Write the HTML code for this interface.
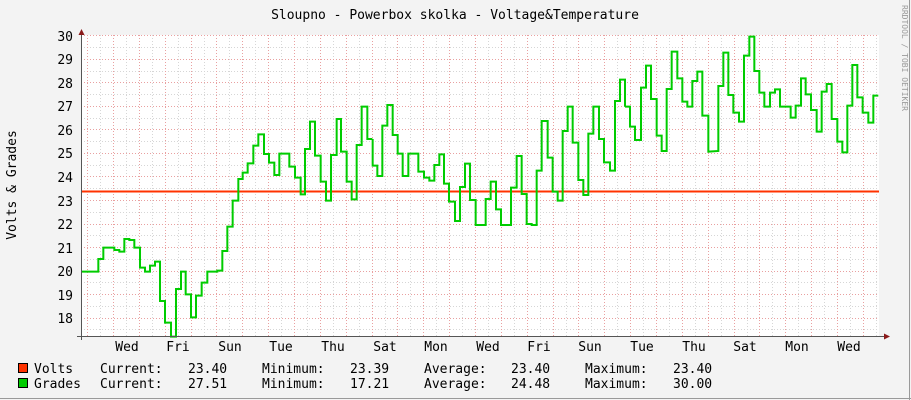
<!DOCTYPE html>
<html><head><meta charset="utf-8"><style>
html,body{margin:0;padding:0;background:#f3f3f3;}
svg{display:block;}
text{font-family:"DejaVu Sans Mono","Liberation Mono",monospace;fill:#000;}
</style></head><body>
<svg width="911" height="400" viewBox="0 0 911 400" xmlns="http://www.w3.org/2000/svg">
<rect x="0" y="0" width="911" height="400" fill="#f3f3f3"/>
<rect x="81" y="35" width="798" height="301" fill="#ffffff"/>
<g id="grid" stroke-width="1" shape-rendering="crispEdges">
<g stroke="#d6d6d6" stroke-dasharray="1,2">
<line x1="81" y1="47.5" x2="879" y2="47.5"/><line x1="81" y1="71.5" x2="879" y2="71.5"/><line x1="81" y1="94.5" x2="879" y2="94.5"/><line x1="81" y1="118.5" x2="879" y2="118.5"/><line x1="81" y1="141.5" x2="879" y2="141.5"/><line x1="81" y1="165.5" x2="879" y2="165.5"/><line x1="81" y1="188.5" x2="879" y2="188.5"/><line x1="81" y1="212.5" x2="879" y2="212.5"/><line x1="81" y1="235.5" x2="879" y2="235.5"/><line x1="81" y1="259.5" x2="879" y2="259.5"/><line x1="81" y1="282.5" x2="879" y2="282.5"/><line x1="81" y1="306.5" x2="879" y2="306.5"/><line x1="81" y1="329.5" x2="879" y2="329.5"/>
<line x1="100.5" y1="35" x2="100.5" y2="336"/><line x1="126.5" y1="35" x2="126.5" y2="336"/><line x1="152.5" y1="35" x2="152.5" y2="336"/><line x1="178.5" y1="35" x2="178.5" y2="336"/><line x1="204.5" y1="35" x2="204.5" y2="336"/><line x1="229.5" y1="35" x2="229.5" y2="336"/><line x1="255.5" y1="35" x2="255.5" y2="336"/><line x1="281.5" y1="35" x2="281.5" y2="336"/><line x1="307.5" y1="35" x2="307.5" y2="336"/><line x1="333.5" y1="35" x2="333.5" y2="336"/><line x1="359.5" y1="35" x2="359.5" y2="336"/><line x1="385.5" y1="35" x2="385.5" y2="336"/><line x1="410.5" y1="35" x2="410.5" y2="336"/><line x1="436.5" y1="35" x2="436.5" y2="336"/><line x1="462.5" y1="35" x2="462.5" y2="336"/><line x1="488.5" y1="35" x2="488.5" y2="336"/><line x1="514.5" y1="35" x2="514.5" y2="336"/><line x1="540.5" y1="35" x2="540.5" y2="336"/><line x1="566.5" y1="35" x2="566.5" y2="336"/><line x1="591.5" y1="35" x2="591.5" y2="336"/><line x1="617.5" y1="35" x2="617.5" y2="336"/><line x1="643.5" y1="35" x2="643.5" y2="336"/><line x1="669.5" y1="35" x2="669.5" y2="336"/><line x1="695.5" y1="35" x2="695.5" y2="336"/><line x1="721.5" y1="35" x2="721.5" y2="336"/><line x1="747.5" y1="35" x2="747.5" y2="336"/><line x1="772.5" y1="35" x2="772.5" y2="336"/><line x1="798.5" y1="35" x2="798.5" y2="336"/><line x1="824.5" y1="35" x2="824.5" y2="336"/><line x1="850.5" y1="35" x2="850.5" y2="336"/><line x1="876.5" y1="35" x2="876.5" y2="336"/>
</g>
<g stroke="#e9a0a0" stroke-dasharray="1,2">
<line x1="81" y1="35.5" x2="879" y2="35.5"/><line x1="81" y1="59.5" x2="879" y2="59.5"/><line x1="81" y1="82.5" x2="879" y2="82.5"/><line x1="81" y1="106.5" x2="879" y2="106.5"/><line x1="81" y1="129.5" x2="879" y2="129.5"/><line x1="81" y1="153.5" x2="879" y2="153.5"/><line x1="81" y1="176.5" x2="879" y2="176.5"/><line x1="81" y1="200.5" x2="879" y2="200.5"/><line x1="81" y1="224.5" x2="879" y2="224.5"/><line x1="81" y1="247.5" x2="879" y2="247.5"/><line x1="81" y1="271.5" x2="879" y2="271.5"/><line x1="81" y1="294.5" x2="879" y2="294.5"/><line x1="81" y1="318.5" x2="879" y2="318.5"/>
<line x1="87.5" y1="35" x2="87.5" y2="336"/><line x1="113.5" y1="35" x2="113.5" y2="336"/><line x1="139.5" y1="35" x2="139.5" y2="336"/><line x1="165.5" y1="35" x2="165.5" y2="336"/><line x1="191.5" y1="35" x2="191.5" y2="336"/><line x1="216.5" y1="35" x2="216.5" y2="336"/><line x1="242.5" y1="35" x2="242.5" y2="336"/><line x1="268.5" y1="35" x2="268.5" y2="336"/><line x1="294.5" y1="35" x2="294.5" y2="336"/><line x1="320.5" y1="35" x2="320.5" y2="336"/><line x1="346.5" y1="35" x2="346.5" y2="336"/><line x1="372.5" y1="35" x2="372.5" y2="336"/><line x1="397.5" y1="35" x2="397.5" y2="336"/><line x1="423.5" y1="35" x2="423.5" y2="336"/><line x1="449.5" y1="35" x2="449.5" y2="336"/><line x1="475.5" y1="35" x2="475.5" y2="336"/><line x1="501.5" y1="35" x2="501.5" y2="336"/><line x1="527.5" y1="35" x2="527.5" y2="336"/><line x1="553.5" y1="35" x2="553.5" y2="336"/><line x1="578.5" y1="35" x2="578.5" y2="336"/><line x1="604.5" y1="35" x2="604.5" y2="336"/><line x1="630.5" y1="35" x2="630.5" y2="336"/><line x1="656.5" y1="35" x2="656.5" y2="336"/><line x1="682.5" y1="35" x2="682.5" y2="336"/><line x1="708.5" y1="35" x2="708.5" y2="336"/><line x1="734.5" y1="35" x2="734.5" y2="336"/><line x1="759.5" y1="35" x2="759.5" y2="336"/><line x1="785.5" y1="35" x2="785.5" y2="336"/><line x1="811.5" y1="35" x2="811.5" y2="336"/><line x1="837.5" y1="35" x2="837.5" y2="336"/><line x1="863.5" y1="35" x2="863.5" y2="336"/>
</g>
</g>
<!-- volts -->
<line x1="81" y1="191.5" x2="879" y2="191.5" stroke="#ff3300" stroke-width="2"/>
<!-- grades -->
<g fill="none" stroke="#00cc00" stroke-width="6" stroke-linejoin="miter">
<polyline transform="translate(75,25) scale(0.33333)" points="18,740 70,740 70,702 85,702 85,668 118,668 118,675 133,675 133,680 148,680 148,642 163,642 163,645 178,645 178,668 195,668 195,728 210,728 210,740 225,740 225,722 240,722 240,710 255,710 255,828 270,828 270,893 288,893 288,935 303,935 303,792 318,792 318,740 332,740 332,808 348,808 348,877 363,877 363,812 380,812 380,773 397,773 397,740 427,740 427,737 442,737 442,678 457,678 457,605 473,605 473,527 490,527 490,462 503,462 503,443 518,443 518,415 535,415 535,362 550,362 550,328 567,328 567,387 582,387 582,413 598,413 598,450 613,450 613,386 643,386 643,425 660,425 660,458 677,458 677,508 690,508 690,372 705,372 705,290 720,290 720,392 737,392 737,470 753,470 753,527 768,527 768,390 785,390 785,282 798,282 798,380 815,380 815,470 830,470 830,523 845,523 845,360 860,360 860,245 877,245 877,342 892,342"/>
<polyline transform="translate(370,25) scale(0.33333)" points="8,342 8,422 22,422 22,453 37,453 37,302 52,302 52,240 68,240 68,330 83,330 83,386 98,386 98,453 115,453 115,386 145,386 145,440 162,440 162,458 178,458 178,467 193,467 193,420 208,420 208,388 222,388 222,476 237,476 237,530 255,530 255,588 270,588 270,486 285,486 285,416 300,416 300,525 317,525 317,600 347,600 347,522 362,522 362,470 378,470 378,553 393,553 393,600 423,600 423,488 440,488 440,393 455,393 455,507 470,507 470,597 485,597 485,600 500,600 500,437 515,437 515,288 533,288 533,398 548,398 548,500 563,500 563,527 578,527 578,318 593,318 593,245 608,245 608,353 625,353 625,465 640,465 640,510 655,510 655,326 670,326 670,245 687,245 687,342 702,342 702,412 720,412 720,437 735,437 735,228 750,228 750,164 765,164 765,245"/>
<polyline transform="translate(620,25) scale(0.33333)" points="15,245 30,245 30,305 45,305 45,345 63,345 63,188 78,188 78,122 93,122 93,222 110,222 110,332 125,332 125,378 140,378 140,192 155,192 155,80 172,80 172,160 187,160 187,230 202,230 202,245 217,245 217,168 232,168 232,140 247,140 247,272 265,272 265,380 295,378 295,183 310,183 310,83 325,83 325,210 340,210 340,263 357,263 357,290 372,290 372,92 388,92 388,35 403,35 403,138 418,138 418,203 433,203 433,245 450,245 450,203 465,203 465,193 480,193 480,245 512,245 512,278 527,278 527,242 543,242 543,160 557,160 557,208 573,208 573,255 590,255 590,320 605,320 605,200 620,200 620,177 635,177 635,282 652,282 652,350 667,350 667,382 682,382 682,242 697,242 697,120 712,120 712,217 728,217 728,263 745,263 745,293 760,293 760,212 775,212"/>
</g>
<!-- axes -->
<g stroke="#555" stroke-width="1" shape-rendering="crispEdges">
<line x1="81.5" y1="30" x2="81.5" y2="340"/>
<line x1="77" y1="336.5" x2="884" y2="336.5"/>
</g>
<polygon points="78.5,35 84.5,35 81.5,29" fill="#8b1a1a"/>
<polygon points="884,333.5 884,339.5 890,336.5" fill="#8b1a1a"/>
<!-- y labels -->
<g font-size="13" text-anchor="end">
<text x="73" y="41">30</text><text x="73" y="64">29</text><text x="73" y="88">28</text><text x="73" y="111">27</text><text x="73" y="135">26</text><text x="73" y="158">25</text><text x="73" y="182">24</text><text x="73" y="206">23</text><text x="73" y="229">22</text><text x="73" y="253">21</text><text x="73" y="276">20</text><text x="73" y="300">19</text><text x="73" y="323">18</text>
</g>
<g font-size="13" text-anchor="middle">
<text x="127" y="351">Wed</text><text x="178" y="351">Fri</text><text x="230" y="351">Sun</text><text x="281" y="351">Tue</text><text x="333" y="351">Thu</text><text x="385" y="351">Sat</text><text x="436" y="351">Mon</text><text x="488" y="351">Wed</text><text x="539" y="351">Fri</text><text x="590" y="351">Sun</text><text x="642" y="351">Tue</text><text x="694" y="351">Thu</text><text x="745" y="351">Sat</text><text x="797" y="351">Mon</text><text x="849" y="351">Wed</text>
</g>
<text x="455" y="19" font-size="13" text-anchor="middle">Sloupno - Powerbox skolka - Voltage&amp;Temperature</text>
<text transform="translate(16,185) rotate(-90)" font-size="13" text-anchor="middle">Volts &amp; Grades</text>
<text transform="translate(902,5) rotate(90)" font-size="8" fill="#999" style="fill:#9a9a9a">RRDTOOL / TOBI OETIKER</text>
<!-- legend -->
<rect x="18.5" y="363.5" width="9" height="9" fill="#ff3300" stroke="#000"/>
<rect x="18.5" y="378.5" width="9" height="9" fill="#00cc00" stroke="#000"/>
<g font-size="13">
<text x="34" y="373">Volts</text><text x="100" y="373">Current:</text><text x="188" y="373">23.40</text><text x="262" y="373">Minimum:</text><text x="350" y="373">23.39</text><text x="424" y="373">Average:</text><text x="511" y="373">23.40</text><text x="585" y="373">Maximum:</text><text x="673" y="373">23.40</text>
<text x="34" y="388">Grades</text><text x="100" y="388">Current:</text><text x="188" y="388">27.51</text><text x="262" y="388">Minimum:</text><text x="350" y="388">17.21</text><text x="424" y="388">Average:</text><text x="511" y="388">24.48</text><text x="585" y="388">Maximum:</text><text x="673" y="388">30.00</text>
</g>
<line x1="0" y1="398.5" x2="911" y2="398.5" stroke="#999"/>
<line x1="909.5" y1="0" x2="909.5" y2="400" stroke="#999"/>
</svg>
</body></html>
